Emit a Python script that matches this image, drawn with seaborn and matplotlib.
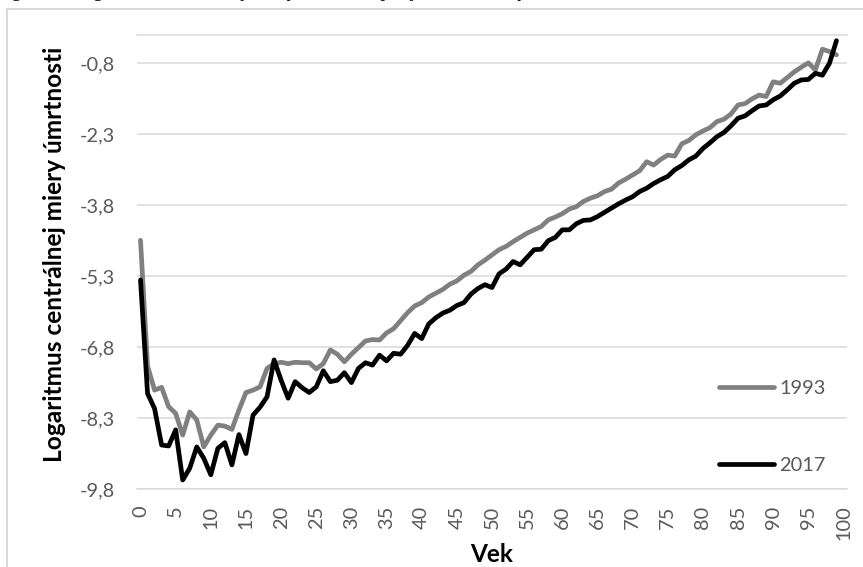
import pandas as pd
import seaborn as sns
import matplotlib.pyplot as plt
from matplotlib.lines import Line2D

sns.set_theme(style="white")
plt.rcParams["font.family"] = ["Lato", "DejaVu Sans"]

# Age (years) and log central death rates for the two calendar years
ages = list(range(100))
years = ["1993", "2017"]
log_mx_1993 = [
    -4.54, -7.20, -7.71, -7.65, -8.06, -8.20, -8.66, -8.17, -8.34, -8.91,
    -8.66, -8.45, -8.47, -8.54, -8.13, -7.76, -7.71, -7.64, -7.25, -7.15,
    -7.12, -7.15, -7.12, -7.13, -7.13, -7.26, -7.15, -6.86, -6.95, -7.11,
    -6.95, -6.81, -6.67, -6.64, -6.65, -6.50, -6.41, -6.24, -6.07, -5.93,
    -5.86, -5.74, -5.66, -5.58, -5.47, -5.40, -5.28, -5.20, -5.06, -4.96,
    -4.85, -4.74, -4.67, -4.57, -4.48, -4.39, -4.32, -4.25, -4.11, -4.05,
    -3.98, -3.88, -3.83, -3.72, -3.65, -3.60, -3.51, -3.46, -3.33, -3.25,
    -3.16, -3.07, -2.88, -2.95, -2.83, -2.74, -2.76, -2.50, -2.43, -2.31,
    -2.23, -2.16, -2.03, -1.98, -1.87, -1.68, -1.65, -1.55, -1.47, -1.50,
    -1.19, -1.22, -1.10, -0.98, -0.88, -0.79, -0.94, -0.50, -0.55, -0.62,
]
log_mx_2017 = [
    -5.38, -7.78, -8.10, -8.87, -8.89, -8.55, -9.61, -9.36, -8.91, -9.15,
    -9.50, -8.94, -8.82, -9.29, -8.65, -9.05, -8.24, -8.07, -7.85, -7.07,
    -7.50, -7.88, -7.53, -7.66, -7.76, -7.64, -7.30, -7.53, -7.50, -7.34,
    -7.55, -7.25, -7.13, -7.18, -6.97, -7.09, -6.93, -6.95, -6.76, -6.51,
    -6.62, -6.31, -6.18, -6.08, -6.02, -5.92, -5.86, -5.68, -5.56, -5.48,
    -5.54, -5.25, -5.15, -4.99, -5.06, -4.90, -4.74, -4.73, -4.55, -4.48,
    -4.32, -4.32, -4.19, -4.12, -4.11, -4.04, -3.95, -3.86, -3.77, -3.69,
    -3.62, -3.51, -3.44, -3.34, -3.26, -3.19, -3.05, -2.96, -2.84, -2.76,
    -2.60, -2.48, -2.35, -2.26, -2.12, -1.96, -1.91, -1.80, -1.70, -1.68,
    -1.57, -1.49, -1.36, -1.22, -1.15, -1.14, -1.01, -1.05, -0.80, -0.32,
]
y_ticks = [-9.8, -8.3, -6.8, -5.3, -3.8, -2.3, -0.8]
x_ticks = list(range(0, 101, 5))
line_colors = {"1993": "#808080", "2017": "#000000"}

df = pd.DataFrame({
    "Vek": ages * 2,
    "log_mx": log_mx_1993 + log_mx_2017,
    "Rok": [years[0]] * len(ages) + [years[1]] * len(ages),
})

W, H = 863, 567
fig = plt.figure(figsize=(W / 100, H / 100), dpi=100)
ax = fig.add_axes([137 / W, 1 - 489 / H, 710 / W, 454 / H])

sns.lineplot(data=df, x="Vek", y="log_mx", hue="Rok", palette=line_colors,
             linewidth=3.4, ax=ax, legend=False)
for ln in ax.lines:
    ln.set_solid_capstyle("round")
    ln.set_solid_joinstyle("round")

ax.set_xlim(-0.5, 100.5)
ax.set_ylim(-9.8, -0.2)
ax.set_yticks(y_ticks)
ax.set_yticklabels([f"{v:.1f}".replace(".", ",") for v in y_ticks])
ax.set_xticks(x_ticks)
ax.set_xticklabels([str(v) for v in x_ticks], rotation=90)
ax.tick_params(axis="both", length=0, labelsize=14.4, labelcolor="#595959")
ax.tick_params(axis="y", pad=16)
ax.tick_params(axis="x", pad=12)
ax.yaxis.grid(True, color="#d9d9d9", linewidth=1.1)
ax.xaxis.grid(False)
ax.set_xlabel("")
ax.set_ylabel("")
for side in ("left", "right"):
    ax.spines[side].set_visible(False)
for side in ("top", "bottom"):
    ax.spines[side].set_color("#d9d9d9")
    ax.spines[side].set_linewidth(1.1)

# Axis titles
fig.text(54 / W, 1 - 254 / H, "Logaritmus centrálnej miery úmrtnosti",
         rotation=90, ha="center", va="center", fontsize=17.6,
         fontweight="bold", color="black")
fig.text(492 / W, 1 - 555 / H, "Vek", ha="center", va="center",
         fontsize=17.6, fontweight="bold", color="black")

# Legend placed inside the plot on the right
handles = [Line2D([0], [0], color=line_colors[y], linewidth=3.4,
                  solid_capstyle="round") for y in years]
ax.legend(handles, years, loc="upper left",
          bbox_to_anchor=(719 / W, 1 - 380 / H), bbox_transform=fig.transFigure,
          frameon=False, fontsize=14.4, labelcolor="#595959",
          handlelength=2.75, handletextpad=0.25, labelspacing=3.0,
          borderpad=0, borderaxespad=0)

# Chart frame (left and top edges)
fig.add_artist(Line2D([7 / W, 7 / W], [0, 1 - 9 / H], transform=fig.transFigure,
                      color="#d9d9d9", linewidth=1.5))
fig.add_artist(Line2D([7 / W, 1], [1 - 9 / H, 1 - 9 / H], transform=fig.transFigure,
                      color="#d9d9d9", linewidth=1.5))

# Caption above the chart frame
fig.text(-0.004, 1 + 3 / H,
         "Figure 6: Logaritmus centrálnej miery úmrtnosti pre jednotlivé veky v rokoch 1993 a 2017",
         family=["Liberation Serif", "DejaVu Serif"], fontstyle="italic",
         fontsize=14, va="baseline", ha="left", color="black")

fig.savefig("out.png", dpi=100)
